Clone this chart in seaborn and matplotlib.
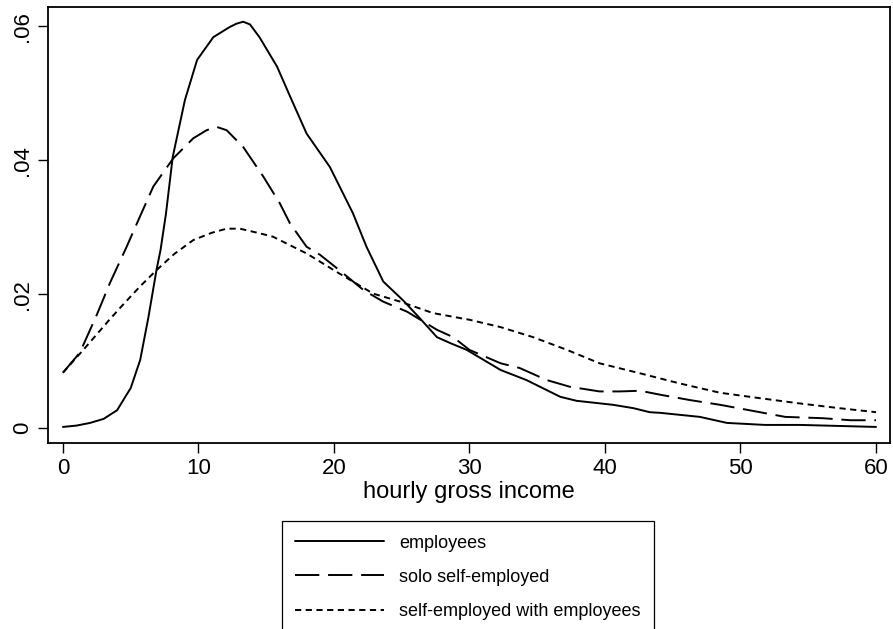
import matplotlib as mpl
import matplotlib.pyplot as plt
import numpy as np
import seaborn as sns
import pandas as pd

# Kernel density estimates
empX = [0, 1, 2, 3, 4, 4.6, 5, 5.7, 6.3, 6.9, 7.2, 7.6, 8.1, 9.0, 9.9, 11.1, 12.3, 12.8,
        13.3, 13.8, 14.5, 15.8, 16.75, 17.98, 19.7, 21.4, 22.4, 23.64, 25.1, 26.35, 27.6,
        28.6, 29.8, 32.3, 34.2, 36.7, 37.9, 40.6, 42.1, 43.3, 44.1, 47.0, 49.0, 51.8,
        54.4, 60]
empY = [0.0002, 0.0004, 0.0008, 0.0014, 0.0027, 0.0047, 0.006, 0.0102, 0.0165, 0.0236,
        0.0266, 0.032, 0.0405, 0.049, 0.055, 0.0584, 0.0599, 0.0604, 0.0607, 0.0603,
        0.0584, 0.054, 0.0496, 0.044, 0.039, 0.0321, 0.0271, 0.0219, 0.0191, 0.0164,
        0.0136, 0.0127, 0.0117, 0.0087, 0.0072, 0.0047, 0.0041, 0.0035, 0.003, 0.0024,
        0.0023, 0.0017, 0.0008, 0.0005, 0.0005, 0.0002]

soloX = [0, 1.25, 2.49, 3.47, 4.7, 5.68, 6.67, 8.14, 9.62, 10.6, 11.34, 12.08, 13.3,
         14.78, 16.0, 16.75, 17.98, 18.97, 20.4, 22.2, 23.64, 25.4, 27.6, 28.8, 30.0,
         32.3, 33.7, 35.7, 37.4, 39.6, 41.1, 42.6, 44.1, 46.3, 48.5, 51.7, 53.3, 56.1,
         58.1, 60]
soloY = [0.0083, 0.0113, 0.0169, 0.0217, 0.0271, 0.0316, 0.0361, 0.0403, 0.0433, 0.0445,
         0.045, 0.0445, 0.042, 0.0376, 0.0336, 0.0306, 0.0271, 0.0259, 0.0236, 0.0206,
         0.0189, 0.0174, 0.0147, 0.0136, 0.0117, 0.0097, 0.009, 0.0072, 0.0062, 0.0055,
         0.0055, 0.0056, 0.005, 0.0042, 0.0035, 0.0023, 0.0017, 0.0015, 0.0012, 0.0012]

withX = [0, 1.5, 2.7, 3.47, 4.5, 5.7, 6.9, 8.2, 9.62, 11.0, 12.08, 13.06, 14.54, 15.5,
         17.98, 20.4, 22.9, 24.9, 27.3, 30.0, 32.3, 34.7, 37.2, 39.6, 42.6, 45.5, 48.5,
         51.4, 54.4, 57.3, 60]
withY = [0.0083, 0.0117, 0.0145, 0.0163, 0.0186, 0.0212, 0.0236, 0.026, 0.0281, 0.0292,
         0.0298, 0.0298, 0.0291, 0.0286, 0.0261, 0.0231, 0.0201, 0.0189, 0.0172, 0.0162,
         0.0151, 0.0136, 0.0117, 0.0097, 0.0082, 0.0067, 0.0053, 0.0045, 0.0037, 0.003,
         0.0024]

groupNames = ['employees', 'solo self-employed', 'self-employed with employees']
yTicks = [0, 0.02, 0.04, 0.06]
yTickLabels = ['0', '.02', '.04', '.06']
xTicks = [0, 10, 20, 30, 40, 50, 60]

df = pd.concat([
    pd.DataFrame({'income': empX, 'density': empY, 'group': groupNames[0]}),
    pd.DataFrame({'income': soloX, 'density': soloY, 'group': groupNames[1]}),
    pd.DataFrame({'income': withX, 'density': withY, 'group': groupNames[2]}),
], ignore_index=True)

sns.set_style('white')
plt.rcParams['font.family'] = ['Liberation Sans', 'DejaVu Sans']
plt.rcParams['text.color'] = 'black'
plt.rcParams['axes.labelcolor'] = 'black'
plt.rcParams['xtick.color'] = 'black'
plt.rcParams['ytick.color'] = 'black'

fig = plt.figure(figsize=(8.93, 6.29), dpi=100)
ax = fig.add_axes([0.0538, 0.2957, 0.9428, 0.6932])

dashStyles = {groupNames[0]: '', groupNames[1]: (12.5, 4.5), groupNames[2]: (3.2, 2.3)}
sns.lineplot(data=df, x='income', y='density', style='group', dashes=dashStyles,
             color='black', linewidth=1.4, estimator=None, sort=False,
             legend=False, ax=ax)

ax.set_xlim(-1.1, 61.03)
ax.set_ylim(-0.0022, 0.0629)
ax.set_xticks(xTicks)
ax.set_yticks(yTicks)
ax.set_yticklabels(yTickLabels, rotation=90, va='center')
ax.tick_params(axis='both', direction='out', length=7, width=1.0, colors='black',
               labelsize=16, pad=4, bottom=True, left=True)
ax.set_xlabel('hourly gross income', fontsize=17, labelpad=1, color='black')
ax.set_ylabel('')
for s in ax.spines.values():
    s.set_color('black')
    s.set_linewidth(1.3)

leg = ax.legend(ax.lines[:3], groupNames, loc='upper center',
                bbox_to_anchor=(0.524, 0.1717), bbox_transform=fig.transFigure,
                borderaxespad=0, fontsize=13, handlelength=4.9, handletextpad=0.85,
                labelspacing=0.95, borderpad=0.75, fancybox=False, framealpha=1)
leg.get_frame().set_edgecolor('black')
leg.get_frame().set_linewidth(0.9)
for t in leg.get_texts():
    t.set_color('black')

fig.savefig('out.png', dpi=100)
